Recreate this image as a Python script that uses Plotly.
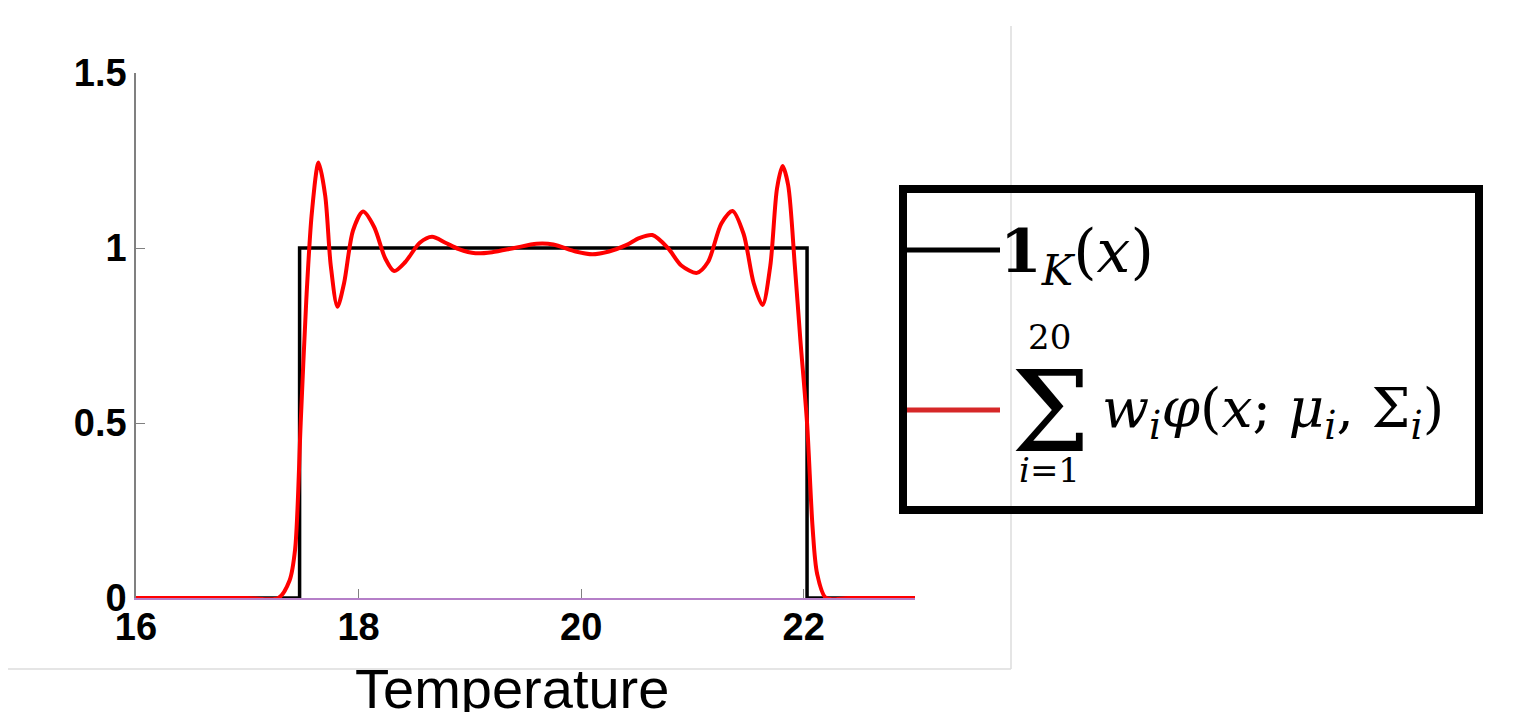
import plotly.graph_objects as go

# ---- data ----
indicator_x = [16, 17.47, 17.47, 22.03, 22.03, 23]
indicator_y = [0, 0, 1, 1, 0, 0]

mixture_x = [16, 17.0, 17.28, 17.38, 17.43, 17.48, 17.53, 17.58, 17.64, 17.70, 17.75, 17.81,
             17.87, 17.95, 18.04, 18.14, 18.24, 18.32, 18.42, 18.55, 18.66, 18.78, 18.9,
             19.05, 19.2, 19.4, 19.6, 19.75, 19.95, 20.1, 20.25, 20.41, 20.52, 20.64,
             20.78, 20.9, 21.04, 21.14, 21.26, 21.36, 21.46, 21.55, 21.63, 21.7, 21.76,
             21.81, 21.86, 21.92, 21.97, 22.03, 22.08, 22.12, 22.2, 22.4, 23]
mixture_y = [0, 0, 0.0, 0.05, 0.14, 0.5, 0.85, 1.1, 1.244, 1.15, 0.95, 0.832,
             0.9, 1.05, 1.104, 1.06, 0.97, 0.934, 0.96, 1.015, 1.032, 1.015, 0.997,
             0.985, 0.988, 1.0, 1.012, 1.01, 0.99, 0.982, 0.99, 1.009, 1.028, 1.037,
             1.0, 0.95, 0.929, 0.96, 1.07, 1.106, 1.04, 0.9, 0.837, 0.95, 1.17,
             1.234, 1.18, 0.95, 0.737, 0.5, 0.2, 0.07, 0.0, 0, 0]

x_ticks = [16, 18, 20, 22]
x_tick_labels = ["16", "18", "20", "22"]
y_ticks = [0, 0.5, 1, 1.5]
y_tick_labels = ["0", "0.5", "1", "1.5"]

x_title = "Temperature"
legend_1 = "<b>1</b><sub><i>K</i></sub>(<i>x</i>)"
sum_upper = "20"
sum_sign = "Σ"
sum_lower = "<i>i</i>=1"
legend_2 = "<i>w</i><sub><i>i</i></sub><i>φ</i>(<i>x</i>; <i>μ</i><sub><i>i</i></sub>, Σ<sub><i>i</i></sub>)"

# ---- layout geometry (screen pixels; page body adds an 8px offset) ----
OFF = 8
SW, SH = 1524, 712
L, R, T, B = 136, 915, 73, 598
PW, PH = R - L, B - T

def px(x):
    return (x - L) / PW

def py(y):
    return (B - y) / PH

fig = go.Figure()
fig.add_trace(go.Scatter(x=indicator_x, y=indicator_y, mode="lines",
                         line=dict(color="#000000", width=3.5), showlegend=False))
fig.add_trace(go.Scatter(x=mixture_x, y=mixture_y, mode="lines",
                         line=dict(color="#ff0000", width=4, shape="spline", smoothing=0.8),
                         showlegend=False))

shapes = []
shapes.append(dict(type="line", xref="paper", yref="paper", x0=px(1011), x1=px(1011),
                   y0=py(26), y1=py(669), line=dict(color="#dcdcdc", width=1.5)))
shapes.append(dict(type="line", xref="paper", yref="paper", x0=px(5), x1=px(1011),
                   y0=py(669), y1=py(669), line=dict(color="#dcdcdc", width=1.5)))
shapes.append(dict(type="rect", xref="paper", yref="paper", x0=px(903), x1=px(1479),
                   y0=py(189), y1=py(510), line=dict(color="#000000", width=8)))
shapes.append(dict(type="line", xref="paper", yref="paper", x0=px(907), x1=px(1000),
                   y0=py(250), y1=py(250), line=dict(color="#000000", width=5)))
shapes.append(dict(type="line", xref="paper", yref="paper", x0=px(907), x1=px(1000),
                   y0=py(410), y1=py(410), line=dict(color="#d62728", width=5)))

serif = "DejaVu Serif"
annotations = [
    dict(text=legend_1, x=px(998), y=py(256), xanchor="left", yanchor="middle",
         font=dict(family=serif, size=60, color="#000")),
    dict(text=sum_upper, x=px(1049), y=py(337), xanchor="center", yanchor="middle",
         font=dict(family=serif, size=34, color="#000")),
    dict(text=sum_sign, x=px(1050), y=py(412), xanchor="center", yanchor="middle",
         font=dict(family=serif, size=112, color="#000")),
    dict(text=sum_lower, x=px(1049), y=py(470), xanchor="center", yanchor="middle",
         font=dict(family=serif, size=34, color="#000")),
    dict(text=legend_2, x=px(1100), y=py(412), xanchor="left", yanchor="middle",
         font=dict(family=serif, size=55, color="#000")),
    dict(text=x_title, x=px(512), y=py(688), xanchor="center", yanchor="middle",
         font=dict(family="Liberation Sans", size=56, color="#000")),
]
for a in annotations:
    a.update(xref="paper", yref="paper", showarrow=False)

fig.update_layout(
    width=SW - OFF, height=SH - OFF,
    margin=dict(l=L - OFF, r=SW - R, t=T - OFF, b=SH - B, pad=0),
    paper_bgcolor="white", plot_bgcolor="white",
    shapes=shapes, annotations=annotations,
    showlegend=False,
    xaxis=dict(range=[16, 23], tickvals=x_ticks, ticktext=x_tick_labels,
               showgrid=False, zeroline=False, showline=True, linecolor="#b57fc8",
               linewidth=2, ticks="inside", ticklen=9, tickcolor="#808080",
               ticklabelstandoff=-6,
               tickfont=dict(family="Liberation Sans", size=38, color="#000", weight="bold")),
    yaxis=dict(range=[0, 1.5], tickvals=y_ticks, ticktext=y_tick_labels,
               showgrid=False, zeroline=False, showline=True, linecolor="#808080",
               linewidth=1.5, ticks="inside", ticklen=9, tickcolor="#808080",
               tickfont=dict(family="Liberation Sans", size=38, color="#000", weight="bold")),
)

fig.write_html("out.html")
